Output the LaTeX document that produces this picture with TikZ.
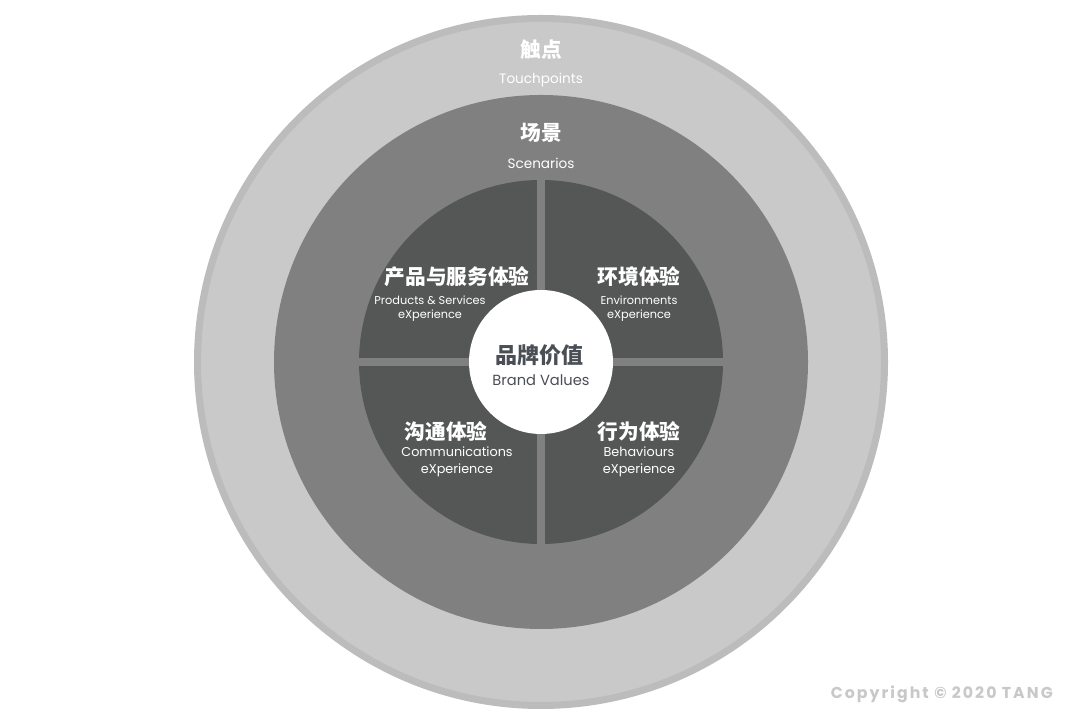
\documentclass[tikz,border=0pt]{standalone}
\usepackage{fontspec}
\setmainfont{Poppins}
\newfontfamily\cjk{Noto Sans CJK SC}
\usetikzlibrary{positioning}
\definecolor{ringlight}{HTML}{C9C9C9}
\definecolor{ringedge}{HTML}{BCBCBC}
\definecolor{ringmid}{HTML}{808080}
\definecolor{ringdark}{HTML}{555656}
\definecolor{coretext}{HTML}{4A4E55}
\definecolor{copytext}{HTML}{C8C8C8}

\begin{document}
\begin{tikzpicture}[x=0.75pt, y=0.75pt,
  zh/.style={font=\cjk\bfseries\fontsize{15.5}{18}\selectfont, text=white, inner sep=0pt},
  en/.style={font=\fontsize{9.6}{12.75}\selectfont, text=white, inner sep=0pt, align=center},
  ensmall/.style={font=\fontsize{8.5}{10.5}\selectfont, text=white, inner sep=0pt, align=center}]
\useasboundingbox (0,0) rectangle (1080,720);
\fill[white] (0,0) rectangle (1080,720);
% Touchpoints ring
\fill[ringlight, draw=ringedge, line width=5.25pt] (541,358) circle (343.5);
% Scenarios ring
\fill[ringmid] (541,358) circle (267);
% Four experience quadrants, split by a cross in the ring colour
\fill[ringdark] (541,358) circle (182);
\fill[ringmid] (537,174) rectangle (545,542);
\fill[ringmid] (357,354) rectangle (725,362);
% Brand core
\fill[white] (541,358) circle (72);

\node[zh] (touch) at (541,670) {触点};
\node[en, font=\fontsize{10.2}{12}\selectfont] (touchen) at (541,640) {Touchpoints};
\node[zh] (scene) at (541,587) {场景};
\node[en, font=\fontsize{10.2}{12}\selectfont] (sceneen) at (541,557) {Scenarios};

\node[zh] (prod) at (457,443) {产品与服务体验};
\node[ensmall] (proden) at (430,411) {Products \& Services\\eXperience};
\node[zh] (env) at (639,443) {环境体验};
\node[ensmall] (enven) at (639,411) {Environments\\eXperience};
\node[zh] (comm) at (446,288) {沟通体验};
\node[en] (commen) at (457,258.5) {Communications\\eXperience};
\node[zh] (behav) at (639,288) {行为体验};
\node[en] (behaven) at (639,258.5) {Behaviours\\eXperience};

\node[zh, text=coretext, font=\cjk\bfseries\fontsize{16.5}{19}\selectfont] (brand) at (539,365) {品牌价值};
\node[en, text=coretext, font=\fontsize{11}{13}\selectfont] (branden) at (541,340) {Brand Values};

\node[anchor=east, inner sep=0pt, text=copytext,
  font=\bfseries\fontsize{11.8}{14}\selectfont\addfontfeatures{LetterSpace=13}] (copy) at (1053,26) {Copyright © 2020 TANG};
\end{tikzpicture}
\end{document}
